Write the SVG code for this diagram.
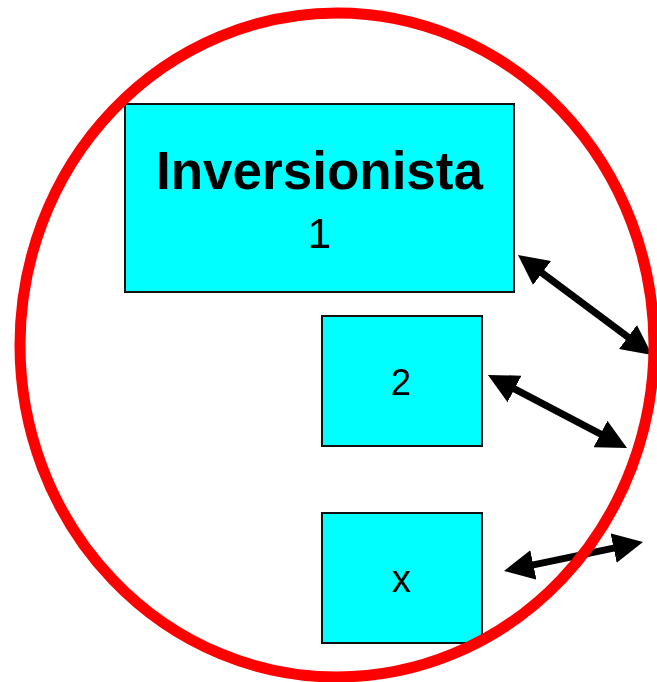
<svg xmlns="http://www.w3.org/2000/svg" width="657" height="682" viewBox="0 0 657 682">
  <style>
    .box { fill: #00ffff; stroke: #111111; stroke-width: 2; }
    .lbl { font-family: "Liberation Sans", Arial, sans-serif; fill: #000000; text-anchor: middle; }
    .title { font-weight: bold; font-size: 53px; }
    .link { stroke: #000000; stroke-width: 7; fill: none; marker-start: url(#head); marker-end: url(#head); }
  </style>
  <defs>
    <!-- double-headed connector tip -->
    <marker id="head" viewBox="0 0 30 30" markerUnits="userSpaceOnUse" markerWidth="30" markerHeight="30" refX="11" refY="15" orient="auto-start-reverse">
      <path d="M0,0 L30,15 L0,30 Z" fill="#000000"/>
    </marker>
  </defs>
  <rect width="657" height="682" fill="#ffffff"/>

  <g id="connectors">
    <line class="link" x1="533.2" y1="266.4" x2="636.8" y2="343.6"/>
    <line class="link" x1="504.8" y1="383.8" x2="610.2" y2="439.2"/>
    <line class="link" x1="522.6" y1="567.1" x2="624.4" y2="545.9"/>
  </g>

  <g id="inversionista-1">
    <rect class="box" x="125" y="104" width="389" height="188"/>
    <text class="lbl title" x="319.5" y="189">Inversionista</text>
    <text class="lbl" x="319.5" y="248" font-size="42">1</text>
  </g>

  <g id="inversionista-2">
    <rect class="box" x="322" y="316" width="160" height="130"/>
    <text class="lbl" x="401" y="395" font-size="36">2</text>
  </g>

  <g id="inversionista-x">
    <rect class="box" x="322" y="513" width="160" height="130"/>
    <text class="lbl" x="401.5" y="592" font-size="38">x</text>
  </g>

  <g id="boundary">
    <ellipse cx="337" cy="345" rx="317" ry="332" fill="none" stroke="#ff0000" stroke-width="11"/>
  </g>
</svg>
